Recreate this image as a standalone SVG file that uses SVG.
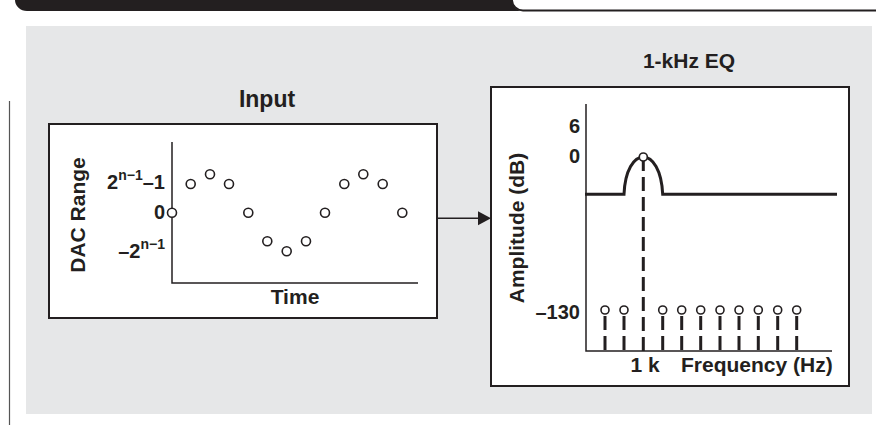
<svg xmlns="http://www.w3.org/2000/svg" width="876" height="425" viewBox="0 0 876 425">
<style>
text{font-family:"Liberation Sans",Arial,sans-serif;font-weight:bold;fill:#231f20}
.t{font-size:21px}
.k{font-size:20px}
.s{font-size:14px}
.box{fill:#fff;stroke:#231f20;stroke-width:2}
.ax{stroke:#231f20;stroke-width:1.5;fill:none}
.pt{fill:#fff;stroke:#231f20;stroke-width:1.6}
.stem{stroke:#231f20;stroke-width:3;stroke-dasharray:14 6}
</style>
<rect width="876" height="425" fill="#fff"/>
<path d="M15,0 H512 A11 11 0 0 0 523 11 H27 A12 11 0 0 1 15 0 Z" fill="#231f20"/>
<path d="M512,0 A11 11 0 0 0 523 10.5 H876" fill="none" stroke="#231f20" stroke-width="1.8"/>
<rect x="26" y="26" width="846" height="388" fill="#e6e7e8"/>
<line x1="9.5" y1="101" x2="9.5" y2="425" stroke="#555" stroke-width="1.2"/>

<g id="input">
<text x="267" y="107" text-anchor="middle" font-size="23">Input</text>
<rect class="box" x="49" y="124" width="388" height="194"/>
<path class="ax" d="M172,142 V283 H418"/>
<text class="t" x="295" y="304" text-anchor="middle">Time</text>
<text class="t" transform="translate(85,215) rotate(-90)" text-anchor="middle">DAC Range</text>
<text class="k" x="165" y="189" text-anchor="end">2<tspan class="s" dy="-9">n−1</tspan><tspan dy="9">–1</tspan></text>
<text class="k" x="165" y="219" text-anchor="end">0</text>
<text class="k" x="165" y="258" text-anchor="end">–2<tspan class="s" dy="-9">n−1</tspan></text>
<g class="pt">
<circle cx="172" cy="212.7" r="4.5"/>
<circle cx="190.7" cy="184" r="4.5"/>
<circle cx="210" cy="174.3" r="4.5"/>
<circle cx="229" cy="184" r="4.5"/>
<circle cx="248.3" cy="212.7" r="4.5"/>
<circle cx="267.3" cy="241.3" r="4.5"/>
<circle cx="286.7" cy="251.3" r="4.5"/>
<circle cx="306" cy="241.3" r="4.5"/>
<circle cx="325" cy="212.7" r="4.5"/>
<circle cx="344.3" cy="184" r="4.5"/>
<circle cx="363.3" cy="174.3" r="4.5"/>
<circle cx="382.7" cy="184" r="4.5"/>
<circle cx="402.3" cy="212.7" r="4.5"/>
</g>
</g>

<g id="eq">
<text class="t" x="689" y="68" text-anchor="middle">1-kHz EQ</text>
<rect class="box" x="491" y="87" width="358" height="299"/>
<path class="ax" d="M586,104 V351 H832"/>
<text class="t" transform="translate(524,228) rotate(-90)" text-anchor="middle">Amplitude (dB)</text>
<text class="k" x="580" y="133" text-anchor="end">6</text>
<text class="k" x="580" y="163" text-anchor="end">0</text>
<text class="k" x="580" y="319" text-anchor="end">–130</text>
<path d="M585,194.3 H624 C625,170 634,157 643.3,157 C652.6,157 661.6,170 662.7,194.3 H837" fill="none" stroke="#231f20" stroke-width="3"/>
<line class="stem" x1="643.3" y1="351" x2="643.3" y2="161"/>
<circle class="pt" cx="643.3" cy="157" r="4"/>
<g>
<line class="stem" x1="605" y1="316" x2="605" y2="351"/>
<line class="stem" x1="624" y1="316" x2="624" y2="351"/>
<line class="stem" x1="662.7" y1="316" x2="662.7" y2="351"/>
<line class="stem" x1="681.7" y1="316" x2="681.7" y2="351"/>
<line class="stem" x1="700.7" y1="316" x2="700.7" y2="351"/>
<line class="stem" x1="720" y1="316" x2="720" y2="351"/>
<line class="stem" x1="739" y1="316" x2="739" y2="351"/>
<line class="stem" x1="758.3" y1="316" x2="758.3" y2="351"/>
<line class="stem" x1="777.7" y1="316" x2="777.7" y2="351"/>
<line class="stem" x1="796.7" y1="316" x2="796.7" y2="351"/>
</g>
<g class="pt">
<circle cx="605" cy="310" r="4"/>
<circle cx="624" cy="310" r="4"/>
<circle cx="662.7" cy="310" r="4"/>
<circle cx="681.7" cy="310" r="4"/>
<circle cx="700.7" cy="310" r="4"/>
<circle cx="720" cy="310" r="4"/>
<circle cx="739" cy="310" r="4"/>
<circle cx="758.3" cy="310" r="4"/>
<circle cx="777.7" cy="310" r="4"/>
<circle cx="796.7" cy="310" r="4"/>
</g>
<text class="t" x="645" y="372" text-anchor="middle">1 k</text>
<text class="t" x="681" y="372">Frequency (Hz)</text>
</g>

<g id="connectors">
<line x1="437" y1="218.3" x2="479" y2="218.3" stroke="#231f20" stroke-width="1.5"/>
<polygon points="478,211.3 491,218.3 478,225.3" fill="#231f20"/>
</g>
</svg>
